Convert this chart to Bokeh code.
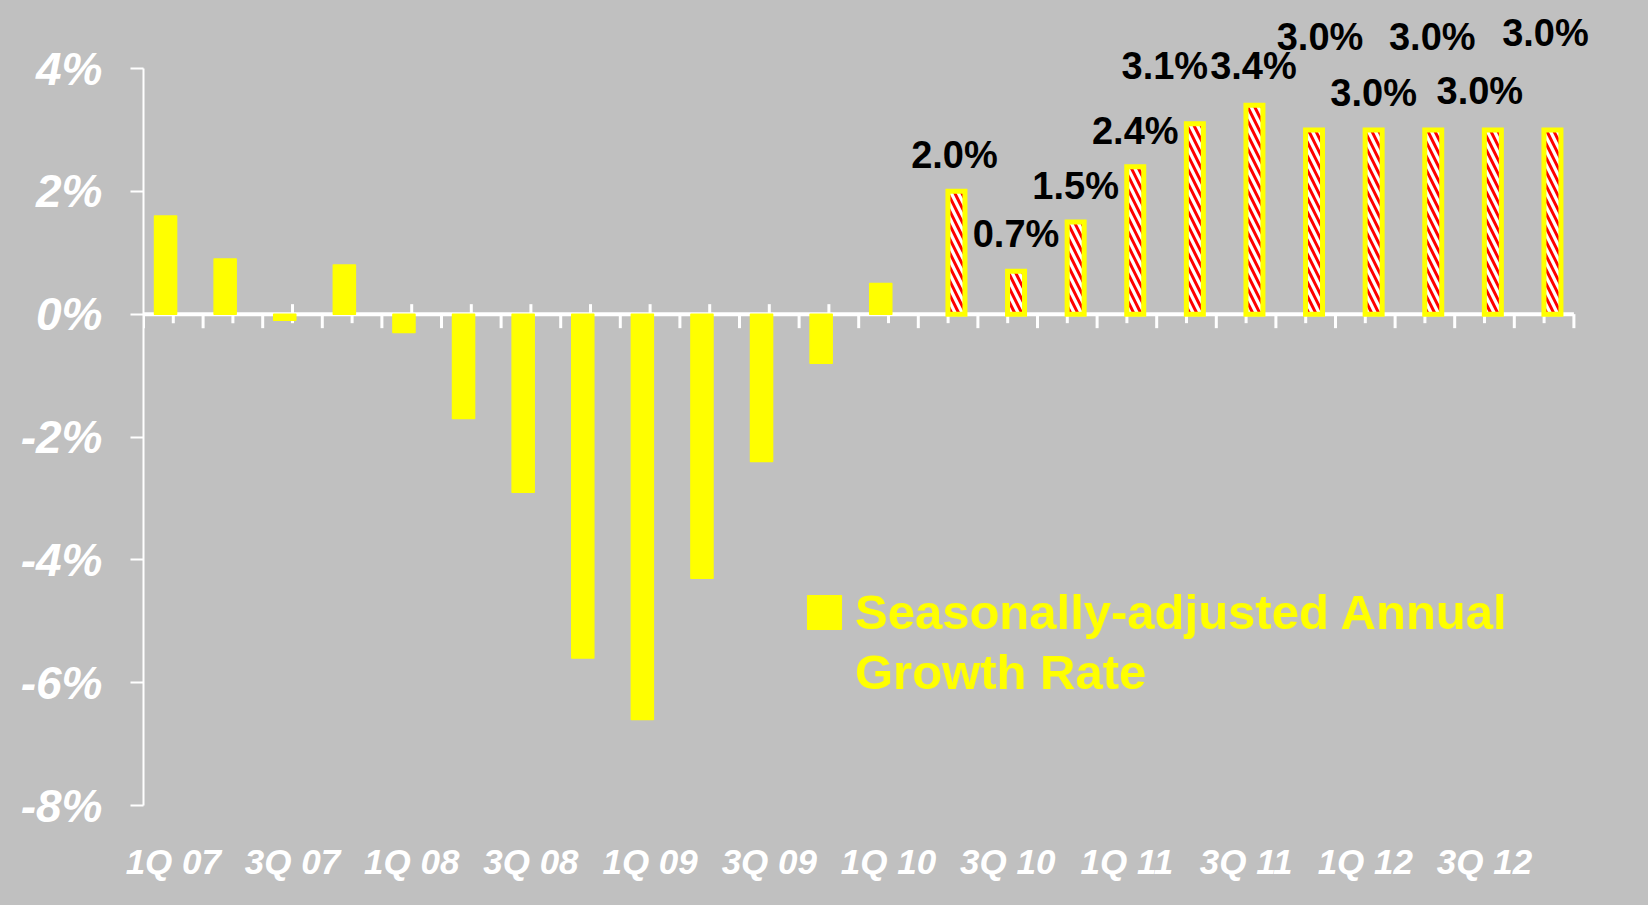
import numpy as np
from bokeh.plotting import figure
from bokeh.models import FixedTicker, Range1d, Legend, LegendItem, ColumnDataSource
from bokeh.core.properties import value
from bokeh.embed import file_html
from bokeh.resources import INLINE

# ---------------- data ----------------
quarters = ["1Q 07", "2Q 07", "3Q 07", "4Q 07",
            "1Q 08", "2Q 08", "3Q 08", "4Q 08",
            "1Q 09", "2Q 09", "3Q 09", "4Q 09",
            "1Q 10", "2Q 10", "3Q 10", "4Q 10",
            "1Q 11", "2Q 11", "3Q 11", "4Q 11",
            "1Q 12", "2Q 12", "3Q 12", "4Q 12"]
tick_labels = ["1Q 07", "3Q 07", "1Q 08", "3Q 08", "1Q 09", "3Q 09",
               "1Q 10", "3Q 10", "1Q 11", "3Q 11", "1Q 12", "3Q 12"]
actual_quarters = quarters[:13]
actual_growth = [1.6, 0.9, -0.1, 0.8, -0.3, -1.7, -2.9, -5.6, -6.6, -4.3, -2.4, -0.8, 0.5]
forecast_quarters = quarters[13:]
forecast_growth = [2.0, 0.7, 1.5, 2.4, 3.1, 3.4, 3.0, 3.0, 3.0, 3.0, 3.0]
forecast_labels = ["2.0%", "0.7%", "1.5%", "2.4%", "3.1%", "3.4%",
                   "3.0%", "3.0%", "3.0%", "3.0%", "3.0%"]
y_ticks = [-8, -6, -4, -2, 0, 2, 4]
legend_line1 = "Seasonally-adjusted Annual"
legend_line2 = "Growth Rate"

# label placement (pixels, relative to top of each forecast bar)
label_dx = [-2, 0, 0, 0, -30, -1, 6, 0, -1, -13, -7]
label_dy = [-36, -37, -36, -36, -58, -39, -93, -37, -93, -39, -97]

# ---------------- layout / style ----------------
BG = "#C0C0C0"
YELLOW = "#FFFF00"
FONT = "Liberation Sans"

n = len(quarters)
pos = {q: i for i, q in enumerate(quarters)}
x_act = np.array([pos[q] for q in actual_quarters], dtype=float)
x_fc = np.array([pos[q] for q in forecast_quarters], dtype=float)

W, H = 1640, 897
left, top_px, bottom_px = 143, 68, 805   # axis x, 4% line, -8% line (page px)
frame_w = W - left
frame_h = bottom_px
px_per_cat = 59.6
px_per_pct = (bottom_px - top_px) / 12.0
x_start = -0.5
x_end = x_start + frame_w / px_per_cat
y_start = -8
y_end = y_start + frame_h / px_per_pct

p = figure(width=W, height=H, output_backend="svg", toolbar_location=None,
           x_range=Range1d(x_start, x_end), y_range=Range1d(y_start, y_end),
           min_border_left=left, min_border_right=0, min_border_top=0,
           min_border_bottom=H - bottom_px)
p.background_fill_color = BG
p.border_fill_color = BG
p.outline_line_color = None
p.grid.visible = False

# y axis
ya = p.yaxis[0]
ya.ticker = FixedTicker(ticks=y_ticks, minor_ticks=[])
ya.bounds = (min(y_ticks), max(y_ticks))
ya.major_label_overrides = {t: f"{t}%" for t in y_ticks}
ya.major_label_text_font = FONT
ya.major_label_text_font_style = "bold italic"
ya.major_label_text_font_size = "46px"
ya.major_label_text_color = "white"
ya.axis_line_color = "white"
ya.axis_line_width = 2
ya.major_tick_line_color = "white"
ya.major_tick_line_width = 2
ya.major_tick_out = 13
ya.major_tick_in = 0
ya.minor_tick_line_color = None
ya.major_label_standoff = 28

# x axis (labels only)
xa = p.xaxis[0]
lab_pos = [pos[t] for t in tick_labels]
xa.ticker = FixedTicker(ticks=lab_pos, minor_ticks=[])
xa.major_label_overrides = {pos[t]: t for t in tick_labels}
xa.major_label_text_font = FONT
xa.major_label_text_font_style = "bold italic"
xa.major_label_text_font_size = "35px"
xa.major_label_text_color = "white"
xa.axis_line_color = None
xa.major_tick_line_color = None
xa.minor_tick_line_color = None
xa.major_label_standoff = 30

# zero line with category ticks
bounds_x = np.arange(n + 1) - 0.5
centers_x = np.arange(n, dtype=float)
p.segment(x0=bounds_x[0], x1=bounds_x[-1], y0=0, y1=0, line_color="white", line_width=4)
p.segment(x0=bounds_x, x1=bounds_x, y0=0, y1=-14 / px_per_pct,
          line_color="white", line_width=3)
p.segment(x0=centers_x, x1=centers_x, y0=10 / px_per_pct, y1=-9 / px_per_pct,
          line_color="white", line_width=3)

# bars
act = p.vbar(x=x_act - 0.13, top=actual_growth, bottom=0, width=0.37,
             fill_color=YELLOW, line_color=YELLOW, line_width=1.5, line_join="round")
fc = p.vbar(x=x_fc + 0.14, top=forecast_growth, bottom=0, width=0.285,
            fill_color="white", hatch_pattern="left_diagonal_line",
            hatch_color="#FF0000", hatch_weight=3, hatch_scale=14,
            line_color=YELLOW, line_width=5, line_join="miter")

# invisible renderer used only for the second legend line
blank = p.vbar(x=[], top=[], width=0.3, fill_alpha=0, line_alpha=0)

# labels
src = ColumnDataSource(dict(x=x_fc + 0.14, y=forecast_growth, text=forecast_labels,
                            dx=label_dx, dy=label_dy))
p.text(x="x", y="y", text="text", x_offset="dx", y_offset="dy", source=src,
       text_font=value(FONT), text_font_style="bold", text_font_size="38px",
       text_color="black", text_align="center", text_baseline="middle")

# legend
legend = Legend(items=[LegendItem(label=legend_line1, renderers=[act]),
                       LegendItem(label=legend_line2, renderers=[blank])],
                location=(660, 105), orientation="vertical",
                background_fill_alpha=0, border_line_alpha=0,
                padding=0, margin=0, spacing=4, glyph_width=42, glyph_height=42,
                label_standoff=10, label_text_font=FONT,
                label_text_font_style="bold", label_text_font_size="49px",
                label_text_color=YELLOW)
p.add_layout(legend, "center")

html = file_html(p, INLINE)
html = html.replace("<head>", "<head><style>html,body{background:#C0C0C0;margin:0;}</style>", 1)
open("out.html", "w").write(html)
